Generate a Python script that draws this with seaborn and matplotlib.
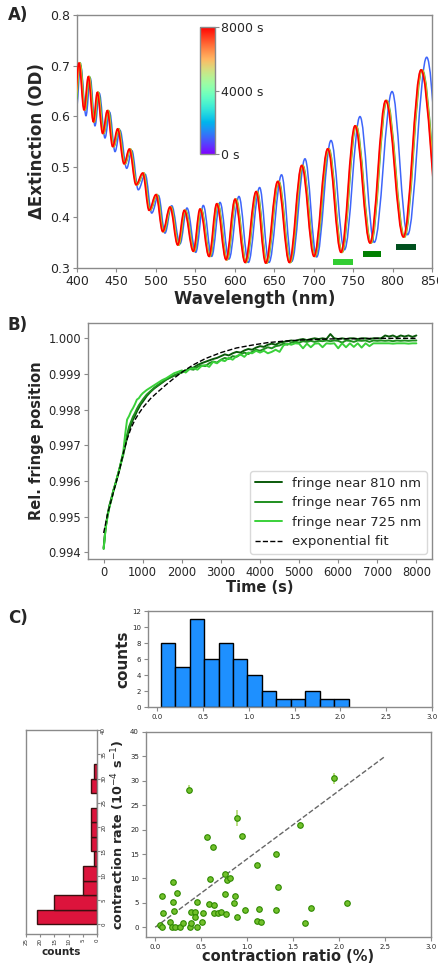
import numpy as np
import pandas as pd
import matplotlib
matplotlib.use("Agg")
import matplotlib as mpl
import matplotlib.pyplot as plt
import seaborn as sns
from matplotlib.path import Path
from matplotlib.patches import PathPatch
from matplotlib.ticker import FormatStrFormatter

sns.set_style("white")
plt.rcParams["font.family"] = ["DejaVu Sans"]

# ---------------- Panel A data: fringe extrema ----------------
red_wl = [397.0, 402.5, 408.9, 414.3, 420.7, 425.7, 432.5, 438.4, 445.2, 451.5, 459.6,
          466.3, 474.8, 483.3, 491.3, 500.1, 508.6, 517.9, 527.6, 536.0, 547.4, 555.9,
          567.3, 577.1, 588.9, 600.3, 613.0, 627.0, 639.2, 654.4, 669.1, 684.8, 700.4,
          717.8, 734.6, 752.4, 771.4, 791.3, 813.7, 836.1, 861.0]
red_od = [0.630, 0.705, 0.6125, 0.678, 0.589, 0.647, 0.566, 0.611, 0.540, 0.575, 0.506,
          0.535, 0.4645, 0.4876, 0.414, 0.445, 0.372, 0.4205, 0.3455, 0.414, 0.333, 0.4166,
          0.323, 0.427, 0.3165, 0.436, 0.311, 0.451, 0.3097, 0.471, 0.311, 0.5026, 0.323,
          0.5356, 0.331, 0.581, 0.3494, 0.6309, 0.3613, 0.6915, 0.370]
blue_wl = [399.0, 404.5, 411.4, 416.8, 422.8, 428.3, 435.5, 441.3, 448.2, 454.5, 463.0,
           469.5, 477.7, 486.5, 494.7, 503.3, 511.5, 520.0, 530.6, 539.4, 550.5, 560.1,
           570.7, 581.3, 592.7, 605.3, 617.2, 631.5, 643.4, 659.3, 672.2, 689.0, 703.8,
           722.0, 739.0, 758.7, 776.8, 799.4, 819.1, 843.3, 866.0]
blue_od = [0.612, 0.700, 0.601, 0.675, 0.581, 0.645, 0.557, 0.608, 0.530, 0.572, 0.497,
           0.532, 0.4546, 0.485, 0.4086, 0.443, 0.369, 0.423, 0.348, 0.4185, 0.331, 0.4236,
           0.323, 0.4296, 0.3178, 0.4414, 0.311, 0.459, 0.311, 0.4842, 0.313, 0.5158, 0.3218,
           0.552, 0.336, 0.5993, 0.3507, 0.6487, 0.3658, 0.7165, 0.375]
# intermediate spectra: offset (nm) of their fringes from the 8000 s spectrum
mid_colors = ["#3aa63a", "#c8c832", "#ff9a2a"]
mid_shift_nm = [1.5, 1.0, 0.5]

marker_start = [725, 763, 804]
marker_end = [750, 785, 830]
marker_od = [0.3125, 0.3277, 0.342]
marker_colors = ["#32cd32", "#008000", "#00501e"]

# ---------------- Panel B data ----------------
time_s = [0, 50, 100, 150, 200, 250, 300, 350, 400, 450, 500, 550, 600, 650, 700, 750, 800,
          850, 900, 950, 1000] + list(range(1100, 8001, 100))
f725 = [0.99409, 0.99465, 0.99500, 0.99527, 0.99547, 0.99572, 0.99590, 0.99612, 0.99632,
        0.99655, 0.99680, 0.99730, 0.99772, 0.99782, 0.99795, 0.99804, 0.99815, 0.99828,
        0.99832, 0.99840, 0.99846,
        0.99855, 0.99862, 0.99869, 0.99876, 0.99883, 0.99888, 0.99895, 0.99902, 0.99906,
        0.99910, 0.99904, 0.99914, 0.99916, 0.99912, 0.99922, 0.99925, 0.99920, 0.99934,
        0.99930, 0.99939, 0.99936, 0.99945, 0.99940, 0.99950, 0.99955, 0.99948, 0.99960,
        0.99958, 0.99965, 0.99960, 0.99965, 0.99958, 0.99962, 0.99968, 0.99962, 0.99980,
        0.99985, 0.99982, 0.99986, 0.99985, 0.99972, 0.99985, 0.99975, 0.99985, 0.99986,
        0.99975, 0.99986, 0.99985, 0.99986, 0.99972, 0.99986, 0.99975, 0.99986, 0.99976,
        0.99986, 0.99974, 0.99986, 0.99978, 0.99986, 0.99986, 0.99986, 0.99986, 0.99986,
        0.99985, 0.99986, 0.99986, 0.99986, 0.99985, 0.99986, 0.99986]
f765 = [0.99410, 0.99468, 0.99503, 0.99530, 0.99550, 0.99572, 0.99590, 0.99610, 0.99630,
        0.99652, 0.99672, 0.99700, 0.99730, 0.99752, 0.99766, 0.99780, 0.99790, 0.99802,
        0.99812, 0.99820, 0.99828,
        0.99842, 0.99852, 0.99862, 0.99870, 0.99878, 0.99885, 0.99890, 0.99896, 0.99900,
        0.99905, 0.99910, 0.99914, 0.99912, 0.99920, 0.99924, 0.99922, 0.99930, 0.99935,
        0.99932, 0.99940, 0.99945, 0.99942, 0.99950, 0.99948, 0.99955, 0.99960, 0.99956,
        0.99962, 0.99968, 0.99965, 0.99970, 0.99975, 0.99972, 0.99978, 0.99980, 0.99985,
        0.99982, 0.99988, 0.99990, 0.99988, 0.99992, 0.99990, 0.99993, 0.99990, 0.99993,
        0.99992, 0.99994, 0.99992, 0.99994, 0.99993, 0.99988, 0.99994, 0.99993, 0.99990,
        0.99994, 0.99993, 0.99994, 0.99990, 0.99994, 0.99993, 0.99994, 0.99993, 0.99994,
        0.99992, 0.99994, 0.99993, 0.99994, 0.99993, 0.99994, 0.99994]
f810 = [0.99412, 0.99470, 0.99505, 0.99532, 0.99552, 0.99574, 0.99592, 0.99612, 0.99632,
        0.99655, 0.99676, 0.99698, 0.99722, 0.99742, 0.99758, 0.99772, 0.99782, 0.99795,
        0.99805, 0.99815, 0.99822,
        0.99838, 0.99850, 0.99860, 0.99868, 0.99876, 0.99884, 0.99890, 0.99895, 0.99900,
        0.99904, 0.99910, 0.99915, 0.99918, 0.99925, 0.99930, 0.99934, 0.99938, 0.99942,
        0.99945, 0.99950, 0.99955, 0.99952, 0.99958, 0.99962, 0.99960, 0.99966, 0.99970,
        0.99968, 0.99974, 0.99978, 0.99976, 0.99982, 0.99985, 0.99982, 0.99988, 0.99990,
        0.99992, 0.99994, 0.99992, 0.99996, 0.99998, 0.99995, 0.99998, 1.00000, 0.99998,
        1.00000, 0.99998, 1.00012, 1.00000, 0.99998, 1.00000, 0.99998, 1.00000, 1.00000,
        0.99998, 1.00000, 1.00000, 0.99998, 1.00000, 1.00000, 1.00000, 1.00008, 1.00005,
        1.00008, 1.00003, 1.00008, 1.00005, 1.00008, 1.00004, 1.00008]
fit_t = [0, 100, 200, 300, 400, 500, 600, 700, 800, 900, 1000, 1200, 1400, 1600, 1800, 2000,
         2300, 2600, 3000, 3400, 3800, 4200, 4600, 5000, 5500, 6000, 6500, 7000, 7500, 8000]
fit_v = [0.99454, 0.99506, 0.99548, 0.99588, 0.99628, 0.99677, 0.99717, 0.99748, 0.99771,
         0.99789, 0.99805, 0.99831, 0.99851, 0.99870, 0.99888, 0.99905, 0.99926, 0.99943,
         0.99960, 0.99973, 0.99981, 0.99988, 0.99992, 0.99995, 0.99997, 0.99999, 0.99999,
         1.00000, 1.00000, 1.00000]

# ---------------- Panel C data ----------------
ratio_edges = [0.04, 0.198, 0.355, 0.513, 0.671, 0.828, 0.986, 1.144, 1.302, 1.459, 1.617,
               1.775, 1.932, 2.09]
ratio_counts = [8, 5, 11, 6, 8, 6, 4, 2, 1, 1, 2, 1, 1]
rate_edges = [0, 3, 6, 9, 12, 15, 18, 21, 24, 27, 30, 33]
rate_counts = [21, 15, 5, 5, 1, 2, 2, 2, 0, 2, 1]

ratio = [0.05, 0.07, 0.07, 0.09, 0.16, 0.19, 0.19, 0.18, 0.21, 0.22, 0.24, 0.27, 0.30, 0.37,
         0.38, 0.39, 0.39, 0.43, 0.43, 0.45, 0.46, 0.51, 0.52, 0.56, 0.59, 0.60, 0.63, 0.64,
         0.64, 0.68, 0.72, 0.76, 0.76, 0.77, 0.78, 0.81, 0.86, 0.87, 0.89, 0.89, 0.94, 0.98,
         1.11, 1.11, 1.13, 1.15, 1.31, 1.31, 1.34, 1.58, 1.63, 1.69, 1.94, 2.09]
rate = [0.5, 0.0, 6.3, 3.0, 1.1, 5.1, 9.25, 0.0, 3.3, 0.0, 7.1, 0.0, 0.9, 28.2, 0.0, 3.1, 0.8,
        3.1, 2.0, 0.0, 5.2, 1.0, 3.0, 18.5, 4.8, 9.9, 16.5, 4.5, 2.9, 2.9, 3.1, 6.9, 10.9, 2.7,
        9.7, 10.0, 5.0, 6.3, 2.1, 22.4, 18.6, 3.5, 12.7, 1.2, 3.7, 1.0, 15.0, 3.5, 8.2, 21.0,
        0.8, 3.9, 30.5, 4.9]
rate_err = [0.3, 0.3, 0.3, 0.3, 0.3, 0.3, 0.3, 0.3, 0.3, 0.3, 0.3, 0.3, 0.3, 1.0, 0.3, 0.3,
            0.3, 0.3, 0.3, 0.3, 0.3, 0.3, 0.3, 0.4, 0.3, 0.3, 0.3, 0.3, 0.3, 0.3, 0.3, 0.3,
            0.3, 0.3, 0.3, 0.3, 0.3, 0.3, 0.3, 1.7, 0.6, 0.3, 0.3, 0.3, 0.3, 0.3, 0.3, 0.3,
            0.3, 0.6, 0.3, 0.3, 1.1, 0.3]
guide_x = [0.0, 2.5]
guide_y = [0.0, 35.0]

SPINE = "#8a8a8a"


def style_axes(ax, labelsize):
    for s in ax.spines.values():
        s.set_visible(True)
        s.set_edgecolor(SPINE)
        s.set_linewidth(1.0)
    ax.tick_params(axis="both", which="major", direction="out", length=3, width=0.8,
                   color=SPINE, labelsize=labelsize, pad=2, bottom=True, left=True)


def fringe_path(wl, od, k=0.364):
    verts = [(wl[0], od[0])]
    codes = [Path.MOVETO]
    for i in range(len(wl) - 1):
        x0, y0, x1, y1 = wl[i], od[i], wl[i + 1], od[i + 1]
        dx = x1 - x0
        verts += [(x0 + k * dx, y0), (x1 - k * dx, y1), (x1, y1)]
        codes += [Path.CURVE4] * 3
    return Path(verts, codes)


W, H = 439, 965
fig = plt.figure(figsize=(W / 100, H / 100), dpi=100)


def axes_px(left, top, right, bottom):
    return fig.add_axes([left / W, 1 - bottom / H, (right - left) / W, (bottom - top) / H])


# ================= Panel A =================
axA = axes_px(77, 15, 432, 268)
cmap = plt.get_cmap("rainbow")
norm = mpl.colors.Normalize(0, 8000)
axA.add_patch(PathPatch(fringe_path(blue_wl, blue_od), fill=False,
                        edgecolor=cmap(0.13), lw=1.1, zorder=2))
for c, sh in zip(mid_colors, mid_shift_nm):
    axA.add_patch(PathPatch(fringe_path([w + sh for w in red_wl], red_od), fill=False,
                            edgecolor=c, lw=1.2, zorder=3))
axA.add_patch(PathPatch(fringe_path(red_wl, red_od), fill=False,
                        edgecolor=cmap(1.0), lw=1.2, zorder=4))
for x0, x1, y, c in zip(marker_start, marker_end, marker_od, marker_colors):
    axA.hlines(y, x0, x1, colors=c, lw=4.3, zorder=5)
axA.set_xlim(400, 850)
axA.set_ylim(0.3, 0.8)
axA.set_xticks(range(400, 851, 50))
axA.set_yticks([0.3, 0.4, 0.5, 0.6, 0.7, 0.8])
axA.yaxis.set_major_formatter(FormatStrFormatter("%.1f"))
style_axes(axA, 9)
axA.set_xlabel("Wavelength (nm)", fontsize=12, fontweight="bold")
axA.set_ylabel("ΔExtinction (OD)", fontsize=12, fontweight="bold")
axA.xaxis.set_label_coords(0.5, -0.087)
axA.yaxis.set_label_coords(-0.088, 0.5)

cax = axes_px(200, 27, 215, 154)
sm = mpl.cm.ScalarMappable(norm=norm, cmap=cmap)
cb = fig.colorbar(sm, cax=cax, ticks=[0, 4000, 8000])
cb.ax.set_yticklabels(["0 s", "4000 s", "8000 s"], fontsize=9)
cb.outline.set_edgecolor(SPINE)
cb.outline.set_linewidth(1.0)
cb.ax.tick_params(length=3, color=SPINE, pad=1)

# ================= Panel B =================
axB = axes_px(88, 323, 432, 559)
dfB = pd.DataFrame({"t": time_s, "810": f810, "765": f765, "725": f725})
for col, c in zip(["810", "765", "725"], ["#0a5a0a", "#1f8f1f", "#3ad13a"]):
    sns.lineplot(data=dfB, x="t", y=col, color=c, lw=1.4,
                 label=f"fringe near {col} nm", ax=axB)
sns.lineplot(x=fit_t, y=fit_v, color="black", lw=1.0, linestyle="--",
             label="exponential fit", ax=axB)
axB.set_xlim(-400, 8400)
axB.set_ylim(0.99381, 1.00043)
axB.set_xticks(range(0, 8001, 1000))
axB.set_yticks([0.994, 0.995, 0.996, 0.997, 0.998, 0.999, 1.000])
axB.yaxis.set_major_formatter(FormatStrFormatter("%.3f"))
style_axes(axB, 8.3)
axB.set_xlabel("Time (s)", fontsize=10.5, fontweight="bold")
axB.set_ylabel("Rel. fringe position", fontsize=10.5, fontweight="bold")
axB.xaxis.set_label_coords(0.5, -0.089)
axB.yaxis.set_label_coords(-0.128, 0.5)
leg = axB.legend(loc="lower right", fontsize=9.5, frameon=True, borderaxespad=0.4,
                 handlelength=2.0)
leg.get_frame().set_edgecolor("#d0d0d0")

# ================= Panel C =================
# top histogram
axT = axes_px(148, 611, 432, 707)
centers_r = [(a + b) / 2 for a, b in zip(ratio_edges[:-1], ratio_edges[1:])]
sns.histplot(x=centers_r, weights=ratio_counts, bins=ratio_edges, color="#1e90ff",
             alpha=1.0, edgecolor="black", linewidth=1.0, ax=axT)
axT.set_xlim(-0.1, 3.0)
axT.set_ylim(0, 12)
axT.set_xticks([0.0, 0.5, 1.0, 1.5, 2.0, 2.5, 3.0])
axT.set_yticks(range(0, 13, 2))
axT.xaxis.set_major_formatter(FormatStrFormatter("%.1f"))
style_axes(axT, 5)
axT.set_xlabel("")
axT.set_ylabel("counts", fontsize=11, fontweight="bold")
axT.yaxis.set_label_coords(-0.063, 0.5)

# left histogram
axL = axes_px(26, 730, 97, 934)
centers_k = [(a + b) / 2 for a, b in zip(rate_edges[:-1], rate_edges[1:])]
sns.histplot(y=centers_k, weights=rate_counts, bins=rate_edges, color="#dc143c",
             alpha=1.0, edgecolor="#3a1010", linewidth=1.0, ax=axL)
axL.set_xlim(25, 0)
axL.set_ylim(-2, 40)
axL.set_xticks(range(0, 26, 5))
axL.set_yticks(range(0, 41, 5))
style_axes(axL, 4)
axL.yaxis.tick_right()
axL.tick_params(axis="y", left=False, right=True, labelleft=False, labelright=True,
                labelrotation=90, length=2, pad=1)
axL.tick_params(axis="x", labelrotation=90, length=2, pad=1)
for lab in axL.get_yticklabels():
    lab.set_va("center")
axL.set_ylabel("")
axL.set_xlabel("counts", fontsize=7.5, fontweight="bold")
axL.xaxis.set_label_coords(0.5, -0.064)

# scatter
axS = axes_px(146, 732, 431, 937)
axS.errorbar(ratio, rate, yerr=rate_err, fmt="none", ecolor="#b5dc7c", elinewidth=1.3,
             capsize=0, zorder=2)
sns.scatterplot(x=ratio, y=rate, s=16, color="#72c02c", edgecolor="#2f8a00",
                linewidth=0.8, zorder=3, ax=axS)
sns.lineplot(x=guide_x, y=guide_y, color="#666666", lw=1.0, linestyle="--", ax=axS)
axS.set_xlim(-0.1, 3.0)
axS.set_ylim(-2, 40)
axS.set_xticks([0.0, 0.5, 1.0, 1.5, 2.0, 2.5, 3.0])
axS.set_yticks(range(0, 41, 5))
axS.xaxis.set_major_formatter(FormatStrFormatter("%.1f"))
style_axes(axS, 5)
axS.set_xlabel("contraction ratio (%)", fontsize=10.5, fontweight="bold")
axS.set_ylabel(r"contraction rate (10$^{-4}$ s$^{-1}$)", fontsize=9.2, fontweight="bold")
axS.xaxis.set_label_coords(0.5, -0.06)
axS.yaxis.set_label_coords(-0.065, 0.5)

# panel labels
for txt, ypx in [("A)", 15), ("B)", 325), ("C)", 618)]:
    fig.text(8 / W, 1 - ypx / H, txt, fontsize=12, fontweight="bold", ha="left", va="center")

fig.savefig("out.png", dpi=100)
